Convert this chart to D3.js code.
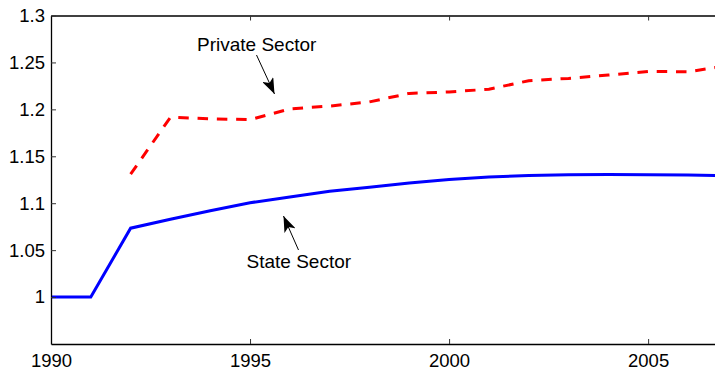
<!DOCTYPE html>
<html>
<head>
<meta charset="utf-8">
<script src="https://cdn.jsdelivr.net/npm/d3@7"></script>
<style>
  html, body { margin: 0; padding: 0; background: #fff; }
  svg { display: block; font-family: "Liberation Sans", Arial, Helvetica, sans-serif; }
</style>
</head>
<body>
<svg id="chart" width="715" height="372"></svg>
<script>
// Years on the horizontal axis
const stateYears = [1990, 1991, 1992, 1993, 1994, 1995, 1996, 1997, 1998, 1999, 2000, 2001, 2002, 2003, 2004, 2005, 2006, 2007];
const stateValues = [1.000, 1.000, 1.0734, 1.083, 1.092, 1.1005, 1.1067, 1.1128, 1.117, 1.1215, 1.1252, 1.1280, 1.1296, 1.1302, 1.1305, 1.1304, 1.1300, 1.1292];

const privateYears = [1992, 1993, 1994, 1995, 1996, 1997, 1998, 1999, 2000, 2001, 2002, 2003, 2004, 2005, 2006, 2007];
const privateValues = [1.131, 1.1915, 1.190, 1.189, 1.2005, 1.2035, 1.2080, 1.2170, 1.2185, 1.2215, 1.2305, 1.2330, 1.2365, 1.2404, 1.2400, 1.2466];

const xTicks = [1990, 1995, 2000, 2005];
const yTicks = [1, 1.05, 1.1, 1.15, 1.2, 1.25, 1.3];
const yTickLabels = ["1", "1.05", "1.1", "1.15", "1.2", "1.25", "1.3"];

const svg = d3.select("#chart");
const box = { left: 51, top: 15.5, right: 715, bottom: 344 };

const x = d3.scaleLinear().domain([1990, 2006.68]).range([box.left, box.right]);
const y = d3.scaleLinear().domain([0.95, 1.3]).range([box.bottom, box.top]);

// clip the series to the axes box
const defs = svg.append("defs");
defs.append("clipPath").attr("id", "plotClip")
  .append("rect").attr("x", box.left).attr("y", box.top)
  .attr("width", box.right - box.left).attr("height", box.bottom - box.top);

const plot = svg.append("g").attr("clip-path", "url(#plotClip)");

const line = d3.line().x(d => x(d[0])).y(d => y(d[1]));

plot.append("path")
  .datum(stateYears.map((yr, i) => [yr, stateValues[i]]))
  .attr("d", line)
  .attr("fill", "none")
  .attr("stroke", "#0000ff")
  .attr("stroke-width", 3);

plot.append("path")
  .datum(privateYears.map((yr, i) => [yr, privateValues[i]]))
  .attr("d", line)
  .attr("fill", "none")
  .attr("stroke", "#ff0000")
  .attr("stroke-width", 3)
  .attr("stroke-dasharray", "10.5,8.8");

// axes box: bottom, top and left with inward ticks
const tickLen = 5;
const axisBottom = d3.axisBottom(x).tickValues(xTicks).tickFormat(d3.format("d")).tickSizeInner(-tickLen).tickSizeOuter(0).tickPadding(10);
const axisTop = d3.axisTop(x).tickValues(xTicks).tickFormat("").tickSizeInner(-tickLen).tickSizeOuter(0);
const axisLeft = d3.axisLeft(y).tickValues(yTicks).tickFormat((d, i) => yTickLabels[i]).tickSizeInner(-tickLen).tickSizeOuter(0).tickPadding(6);

function styleAxis(g) {
  g.select(".domain").attr("stroke", "#000").attr("stroke-width", 1.3);
  g.selectAll(".tick line").attr("stroke", "#333").attr("stroke-width", 1);
  g.selectAll(".tick text").attr("fill", "#000").attr("font-size", 18.5)
    .attr("font-family", "'Liberation Sans', Arial, Helvetica, sans-serif");
}

svg.append("g").attr("transform", `translate(0,${box.bottom})`).call(axisBottom).call(styleAxis);
svg.append("g").attr("transform", `translate(0,${box.top})`).call(axisTop).call(styleAxis);
svg.append("g").attr("transform", `translate(${box.left},0)`).call(axisLeft).call(styleAxis);

// annotations with arrows
defs.append("marker")
  .attr("id", "arrowHead")
  .attr("viewBox", "0 0 16 12")
  .attr("refX", 16).attr("refY", 6)
  .attr("markerWidth", 16).attr("markerHeight", 12)
  .attr("markerUnits", "userSpaceOnUse")
  .attr("orient", "auto")
  .append("path")
  .attr("d", "M0,0 L16,6 L0,12 L4,6 Z")
  .attr("fill", "#000");

const notes = [
  { text: "Private Sector", tx: 197, ty: 50.5, x1: 256.5, y1: 55, x2: 274.5, y2: 94 },
  { text: "State Sector", tx: 246.5, ty: 267.5, x1: 298.5, y1: 250, x2: 283.5, y2: 216 }
];

notes.forEach(n => {
  svg.append("text")
    .attr("x", n.tx).attr("y", n.ty)
    .attr("font-size", 19)
    .attr("fill", "#000")
    .text(n.text);
  svg.append("line")
    .attr("x1", n.x1).attr("y1", n.y1)
    .attr("x2", n.x2).attr("y2", n.y2)
    .attr("stroke", "#000").attr("stroke-width", 1)
    .attr("marker-end", "url(#arrowHead)");
});
</script>
</body>
</html>
